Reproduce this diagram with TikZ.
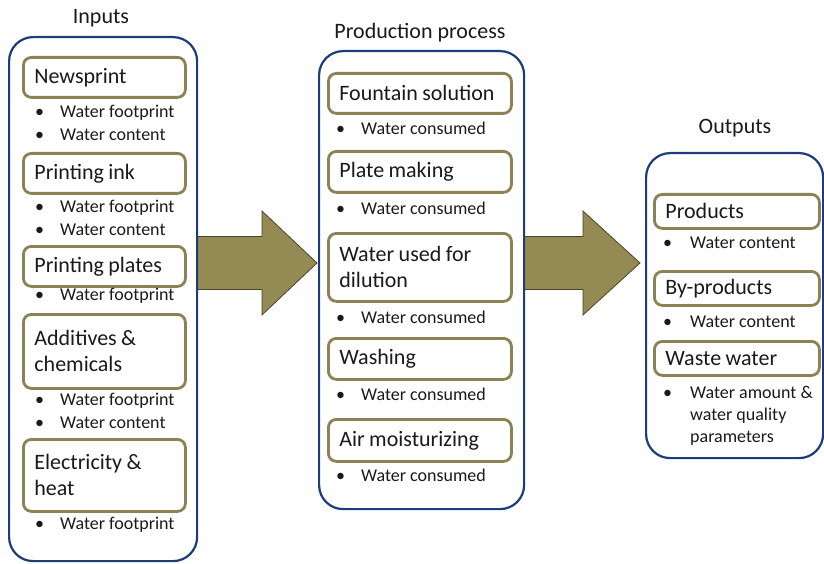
\documentclass[tikz,border=0pt]{standalone}
\usepackage{fontspec}
\setmainfont{Carlito}
\definecolor{navy}{HTML}{1F3C7A}
\definecolor{khaki}{HTML}{8C8256}
\definecolor{olivefill}{HTML}{948A54}
\definecolor{oliveedge}{HTML}{4A4527}
\definecolor{ink}{HTML}{1A1A1A}
\begin{document}
\begin{tikzpicture}[x=1pt,y=-1pt,
  every node/.style={text=ink},
  cont/.style={draw=navy, line width=2.2pt, rounded corners=24pt, inner sep=0pt, anchor=north west},
  ttl/.style={font=\fontsize{22}{26}\selectfont, inner sep=0pt},
  ibox/.style={draw=khaki, line width=2.8pt, rounded corners=8pt, fill=white, align=left,
    anchor=north west, inner xsep=11pt, inner ysep=0pt, font=\fontsize{22}{26}\selectfont,
    execute at begin node={\spaceskip=0.2em\relax}},
  lbox/.style={ibox, text width=140pt},
  mbox/.style={ibox, text width=161pt},
  rbox/.style={ibox, text width=143pt},
  bul/.style={font=\fontsize{18}{22}\selectfont, inner sep=0pt, anchor=west, align=left},
  fatarr/.style={fill=olivefill, draw=oliveedge, line width=0.8pt, line join=miter}
]
\useasboundingbox (0,0) rectangle (824,564);

% big block arrows between the stages
\coordinate (arrL) at (197,263);
\coordinate (arrM) at (524,263);
\draw[fatarr] (arrL) ++(0,-26.5) -- ++(65,0) -- ++(0,-25.5) -- ++(55,52) -- ++(-55,52)
  -- ++(0,-25.5) -- ++(-65,0) -- cycle;
\draw[fatarr] (arrM) ++(0,-26.5) -- ++(59,0) -- ++(0,-25.5) -- ++(57,52) -- ++(-57,52)
  -- ++(0,-25.5) -- ++(-59,0) -- cycle;

% stage containers
\node[cont, minimum width=188pt, minimum height=524pt] (lc) at (8,36) {};
\node[cont, minimum width=205pt, minimum height=458pt] (mc) at (318,50) {};
\node[cont, minimum width=177pt, minimum height=305pt] (rc) at (645,152) {};

% titles
\node[ttl] (tin) at (101,18) {Inputs};
\node[ttl] (tpr) at (420,33) {Production process};
\node[ttl] (tout) at (735,128) {Outputs};

% inputs
\node[lbox, minimum height=40pt] (news) at (22,56) {Newsprint};
\node[bul] (news1) at (35,113) {\makebox[25pt][l]{•}Water footprint};
\node[bul] (news2) at (35,135) {\makebox[25pt][l]{•}Water content};
\node[lbox, minimum height=40pt] (pink) at (22,152) {Printing ink};
\node[bul] (pink1) at (35,208) {\makebox[25pt][l]{•}Water footprint};
\node[bul] (pink2) at (35,230) {\makebox[25pt][l]{•}Water content};
\node[lbox, minimum height=40pt] (plat) at (22,245) {Printing plates};
\node[bul] (plat1) at (35,296) {\makebox[25pt][l]{•}Water footprint};
\node[lbox, minimum height=74pt] (addi) at (22,313) {Additives \&\\chemicals};
\node[bul] (addi1) at (35,401) {\makebox[25pt][l]{•}Water footprint};
\node[bul] (addi2) at (35,423) {\makebox[25pt][l]{•}Water content};
\node[lbox, minimum height=72pt] (elec) at (22,438) {Electricity \&\\heat};
\node[bul] (elec1) at (35,525) {\makebox[25pt][l]{•}Water footprint};

% production process
\node[mbox, minimum height=40pt] (fount) at (327,72) {Fountain solution};
\node[bul] (fount1) at (336,128) {\makebox[25pt][l]{•}Water consumed};
\node[mbox, minimum height=41pt] (platm) at (327,150) {Plate making};
\node[bul] (platm1) at (336,208) {\makebox[25pt][l]{•}Water consumed};
\node[mbox, minimum height=68pt] (dil) at (327,232) {Water used for\\dilution};
\node[bul] (dil1) at (336,317) {\makebox[25pt][l]{•}Water consumed};
\node[mbox, minimum height=41pt] (wash) at (327,337) {Washing};
\node[bul] (wash1) at (336,394) {\makebox[25pt][l]{•}Water consumed};
\node[mbox, minimum height=42pt] (air) at (327,418) {Air moisturizing};
\node[bul] (air1) at (336,475) {\makebox[25pt][l]{•}Water consumed};

% outputs
\node[rbox, minimum height=34pt] (prod) at (653,193) {Products};
\node[bul] (prod1) at (663,243) {\makebox[27pt][l]{•}Water content};
\node[rbox, minimum height=34pt] (byp) at (653,270) {By-products};
\node[bul] (byp1) at (663,322) {\makebox[27pt][l]{•}Water content};
\node[rbox, minimum height=34pt] (waste) at (653,340) {Waste water};
\node[bul, anchor=north west] (waste1) at (663,386)
  {\makebox[27pt][l]{•}Water amount \&\\\hspace*{27pt}water quality\\\hspace*{27pt}parameters};
\end{tikzpicture}
\end{document}
